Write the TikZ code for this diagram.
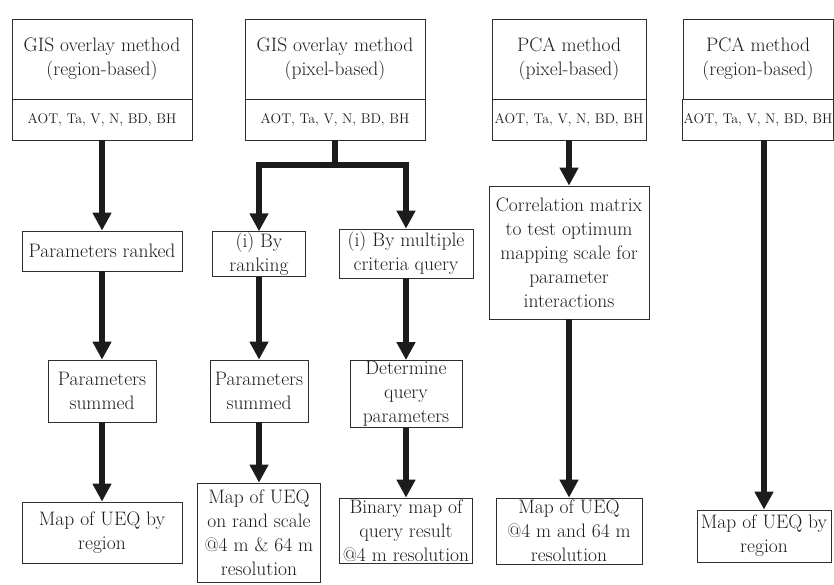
\documentclass[tikz,border=0pt]{standalone}
\usepackage{tikz}
\usetikzlibrary{arrows.meta}
\definecolor{ink}{HTML}{1C1C1C}
\definecolor{rule}{HTML}{2E2E2E}
\tikzset{
  flow/.style={-{Triangle[length=18pt,width=18pt]}, line width=5.5pt, color=ink},
  bx/.style={draw=rule, line width=0.8pt, align=center, inner sep=1pt, text=ink,
    font=\fontsize{19.5}{24}\selectfont},
  hd/.style={bx, minimum width=#1, minimum height=80pt},
  prm/.style={bx, minimum width=#1, minimum height=41pt, font=\fontsize{14}{17}\selectfont},
  stp/.style 2 args={bx, minimum width=#1, minimum height=#2},
}

\begin{document}
\begin{tikzpicture}[x=1pt,y=-1pt]
  \fill[white] (0,0) rectangle (834,584);
  \useasboundingbox (0,0) rectangle (834,584);
  % headers
  \node[hd=180pt] (h1) at (102,59) {GIS overlay method\\(region-based)};
  \node[prm=180pt] (p1) at (102,119.5) {AOT, Ta, V, N, BD, BH};
  \node[hd=180pt] (h2) at (335,59) {GIS overlay method\\(pixel-based)};
  \node[prm=180pt] (p2) at (335,119.5) {AOT, Ta, V, N, BD, BH};
  \node[hd=154pt] (h3) at (569,59) {PCA method\\(pixel-based)};
  \node[prm=154pt] (p3) at (569,119.5) {AOT, Ta, V, N, BD, BH};
  \node[hd=150pt] (h4) at (758,59) {PCA method\\(region-based)};
  \node[prm=150pt] (p4) at (758,119.5) {AOT, Ta, V, N, BD, BH};
  % GIS, region-based
  \node[stp={160pt}{40pt}] (r1) at (102,251) {Parameters ranked};
  \node[stp={108pt}{62pt}] (s1) at (102,391) {Parameters\\summed};
  \node[stp={160pt}{61pt}] (m1) at (102,532.5) {Map of UEQ by\\region};
  \draw[flow] (p1) -- (r1);
  \draw[flow] (r1) -- (s1);
  \draw[flow] (s1) -- (m1);
  % GIS, pixel-based
  \coordinate (j2) at (335,165);
  \node[stp={93pt}{44pt}] (r2) at (259,254) {(i) By\\ranking};
  \node[stp={134pt}{49pt}] (q2) at (406,253.5) {(i) By multiple\\criteria query};
  \node[stp={98pt}{62pt}] (s2) at (259,391) {Parameters\\summed};
  \node[stp={123pt}{99pt}] (m2) at (259,532.5) {Map of UEQ\\on rand scale\\@4 m \& 64 m\\resolution};
  \node[stp={112pt}{64pt}] (d2) at (406,394) {Determine\\query\\parameters};
  \node[stp={133pt}{65pt}] (b2) at (406,530.5) {Binary map of\\query result\\@4 m resolution};
  \draw[flow] (p2.south) |- (j2) -| (r2);
  \draw[flow] (j2) -| (q2);
  \draw[flow] (r2) -- (s2);
  \draw[flow] (s2) -- (m2);
  \draw[flow] (q2) -- (d2);
  \draw[flow] (d2) -- (b2);
  % PCA, pixel-based
  \node[stp={160pt}{133pt}] (c3) at (569,252.5) {Correlation matrix\\to test optimum\\mapping scale for\\parameter\\interactions};
  \node[stp={146pt}{66pt}] (m3) at (569,531) {Map of UEQ\\@4 m and 64 m\\resolution};
  \draw[flow] (p3) -- (c3);
  \draw[flow] (c3) -- (m3);
  % PCA, region-based
  \node[stp={134pt}{52pt}] (m4) at (764,536) {Map of UEQ by\\region};
  \draw[flow] (p4.south -| m4.north) -- (m4.north);
\end{tikzpicture}
\end{document}
